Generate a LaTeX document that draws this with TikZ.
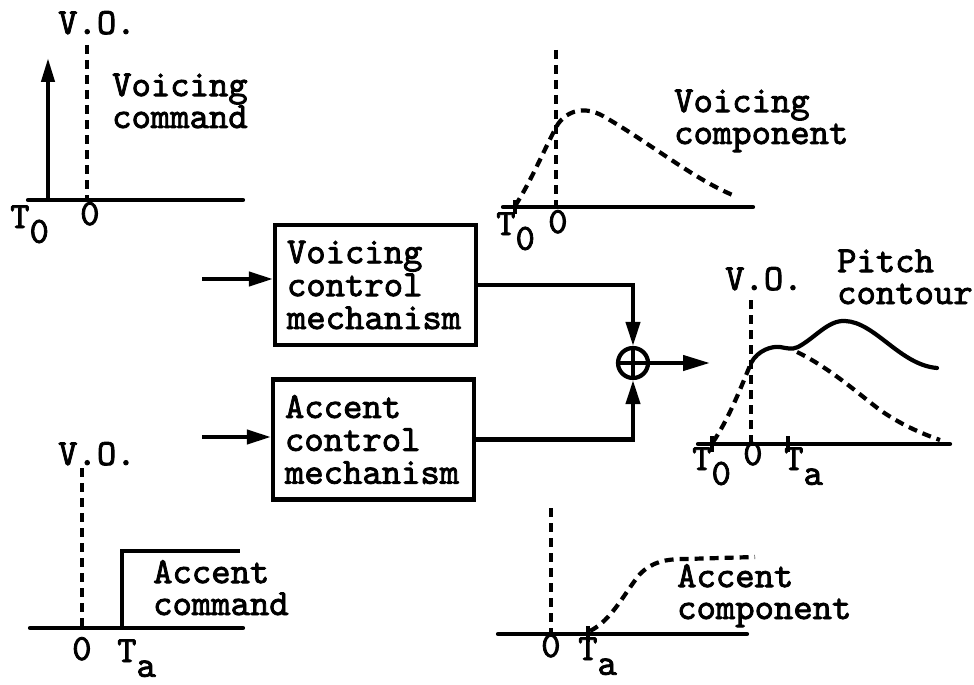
\documentclass[tikz,border=0pt]{standalone}
\usepackage{fontspec}
\newfontfamily\tw{lmmono10-regular.otf}[FakeBold=2.2]
\usetikzlibrary{arrows.meta,calc}
\newcommand{\lowsub}[1]{\raisebox{-0.40em}{#1}}
\begin{document}
\begin{tikzpicture}[x=1bp,y=-1bp,
  lbl/.style={anchor=base west,inner sep=0pt,text height=0.62em,text depth=0.12em,
     font=\tw\fontsize{37}{32}\selectfont},
  mlbl/.style={anchor=base west,inner sep=0pt,align=left,
     font=\tw\fontsize{37}{32}\selectfont},
  axis/.style={line width=4.2bp,line cap=round},
  dsh/.style={line width=4.2bp,dash pattern=on 9bp off 6bp},
  solidc/.style={line width=4.2bp,line cap=round},
  boxnode/.style={draw,line width=4.2bp,minimum width=201bp,minimum height=120bp,
     text width=177bp,align=left,inner sep=0pt,font=\tw\fontsize{37}{33}\selectfont},
  arr/.style={line width=4.2bp,-{Triangle[length=24bp,width=14bp]}},
  tick/.style={line width=4.2bp}
]
\useasboundingbox (0,0) rectangle (974,685);

% ---------- Voicing command (top left)
\coordinate (a0) at (28,200); \coordinate (a1) at (243,200);
\draw[axis] (a0) -- (a1);
\coordinate (aT) at (48,200); \coordinate (aTt) at (48,58);
\draw[line width=4.2bp,-{Triangle[length=24bp,width=13bp]}] (aT) -- (aTt);
\coordinate (aV0) at (87,45); \coordinate (aV1) at (87,200);
\draw[dsh] (aV0) -- (aV1);
\node[lbl] (aVO) at (58,34) {V.O.};
\node[mlbl] (aL) at (112,128) {Voicing\\command};
\node[lbl] (aT0) at (10,228) {T\lowsub{0}};
\node[lbl] (a00) at (80,225) {0};

% ---------- Voicing component (top middle)
\coordinate (b0) at (503,207); \coordinate (b1) at (753,207);
\draw[axis] (b0) -- (b1);
\coordinate (bV0) at (556,50); \coordinate (bV1) at (556,207);
\draw[dsh] (bV0) -- (bV1);
\draw[tick] (515,200) -- (515,214);
\draw[dsh] (515,206) .. controls (533,178) and (546,145) .. (558,124)
   .. controls (568,110) and (585,106) .. (603,116)
   .. controls (650,143) and (695,180) .. (735,196);
\node[mlbl] (bL) at (674,144) {Voicing\\component};
\node[lbl] (bT0) at (496,235) {T\lowsub{0}};
\node[lbl] (b00) at (548,233) {0};

% ---------- Boxes
\node[boxnode] (vbox) at (375.5,285) {Voicing\\control\\mechanism};
\node[boxnode] (abox) at (373.5,439.5) {Accent\\control\\mechanism};
\coordinate (in1) at (202,279);
\coordinate (in2) at (202,437);
\draw[arr] (in1) -- (in1 -| vbox.west);
\draw[arr] (in2) -- (in2 -| abox.west);

% ---------- Summation
\node[draw,circle,line width=4.2bp,minimum size=30bp,inner sep=0pt] (sum) at (633,363) {};
\draw[line width=4bp] (sum.north) -- (sum.south) (sum.west) -- (sum.east);
\draw[arr] (vbox.east) -| (sum.north);
\draw[arr] (abox.east) -| (sum.south);
\coordinate (out) at (710,363);
\draw[line width=4.2bp,-{Triangle[length=27bp,width=15bp]}] (sum.east) -- (out);

% ---------- Pitch contour (right)
\coordinate (c0) at (698,444); \coordinate (c1) at (950,444);
\draw[axis] (c0) -- (c1);
\coordinate (cV0) at (751,300); \coordinate (cV1) at (751,444);
\draw[dsh] (cV0) -- (cV1);
\draw[tick] (712,436) -- (712,452);
\draw[tick] (788,436) -- (788,452);
\draw[dsh] (713,442) .. controls (728,420) and (740,390) .. (751,363);
\draw[solidc] (751,363) .. controls (758,350) and (772,346) .. (780,347)
   .. controls (786,348) and (792,350) .. (798,347)
   .. controls (815,338) and (828,320) .. (845,321)
   .. controls (875,322) and (900,365) .. (937,368);
\draw[dsh] (797,352) .. controls (830,368) and (860,395) .. (880,410)
   .. controls (900,424) and (920,433) .. (940,440);
\node[lbl] (cVO) at (725,290) {V.O.};
\node[mlbl] (cL) at (837,304) {Pitch\\contour};
\node[lbl] (cT0) at (692,470) {T\lowsub{0}};
\node[lbl] (c00) at (743,465) {0};
\node[lbl] (cTa) at (784,470) {T\lowsub{a}};

% ---------- Accent command (bottom left)
\coordinate (d0) at (30,628); \coordinate (d1) at (243,628);
\draw[axis] (d0) -- (d1);
\coordinate (dV0) at (82,468); \coordinate (dV1) at (82,628);
\draw[dsh] (dV0) -- (dV1);
\draw[line width=4.2bp,line join=miter] (122,628) -- (122,551) -- (240,551);
\node[lbl] (dVO) at (58,465) {V.O.};
\node[mlbl] (dL) at (153,615) {Accent\\command};
\node[lbl] (d00) at (72,660) {0};
\node[lbl] (dTa) at (117,662) {T\lowsub{a}};

% ---------- Accent component (bottom middle)
\coordinate (e0) at (498,634); \coordinate (e1) at (747,634);
\draw[axis] (e0) -- (e1);
\coordinate (eV0) at (551,508); \coordinate (eV1) at (551,634);
\draw[dsh] (eV0) -- (eV1);
\draw[tick] (588,626) -- (588,642);
\draw[dsh] (590,631) .. controls (612,620) and (625,592) .. (640,574)
   .. controls (652,562) and (665,559) .. (685,559) -- (755,557);
\node[mlbl] (eL) at (677,619) {Accent\\component};
\node[lbl] (e00) at (541,657) {0};
\node[lbl] (eTa) at (578,660) {T\lowsub{a}};
\end{tikzpicture}
\end{document}
